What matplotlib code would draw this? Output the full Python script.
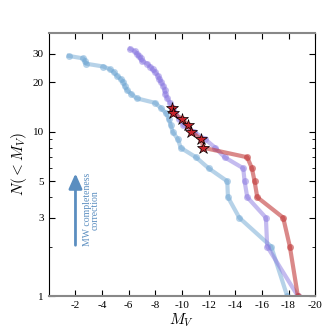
import matplotlib
matplotlib.use('Agg')
import matplotlib.pyplot as plt

plt.rcParams['font.family'] = 'serif'
plt.rcParams['font.serif'] = ['Liberation Serif', 'DejaVu Serif']
plt.rcParams['mathtext.fontset'] = 'cm'

# cumulative counts N(<M_V) against M_V
blue_mv = [-1.5, -2.6, -2.7, -2.8, -4.1, -4.6, -4.9, -5.1, -5.4, -5.6, -5.7, -5.85, -6.2, -6.6,
           -8.0, -8.4, -8.8, -9.0, -9.15, -9.3, -9.7, -9.9, -11.05, -12.0, -13.4, -13.45, -14.3,
           -16.7, -17.9]
blue_n = [29, 28, 27, 26, 25, 24, 23, 22, 21, 20, 19, 18, 17, 16, 15, 14, 13, 12, 11, 10, 9, 8,
          7, 6, 5, 4, 3, 2, 1]

purple_mv = [-6.1, -6.45, -6.6, -6.75, -6.9, -7.0, -7.4, -7.6, -7.8, -8.0, -8.2, -8.3, -8.45,
             -8.6, -8.7, -8.75, -8.9, -9.1, -9.3, -9.5, -9.8, -10.1, -10.9, -11.75, -12.5, -13.2,
             -14.6, -14.7, -14.9, -16.3, -16.4, -18.7]
purple_n = [32, 31, 30, 29, 28, 27, 26, 25, 24, 23, 22, 21, 20, 19, 18, 17, 16, 15, 14, 13, 12,
            11, 10, 9, 8, 7, 6, 5, 4, 3, 2, 1]

red_mv = [-9.25, -9.35, -10.0, -10.45, -10.7, -11.45, -11.6, -14.9, -15.25, -15.45, -15.65,
          -17.6, -18.1, -18.7]
red_n = [14, 13, 12, 11, 10, 9, 8, 7, 6, 5, 4, 3, 2, 1]

star_mv = red_mv[:7]
star_n = red_n[:7]

xticks = [-2, -4, -6, -8, -10, -12, -14, -16, -18, -20]
yticks = [1, 3, 5, 10, 20, 30]

fig = plt.figure(figsize=(3.3, 3.3), dpi=100)
ax = fig.add_axes([0.148, 0.103, 0.807, 0.797])

ax.plot(blue_mv, blue_n, '-o', color='#6ea6d3', alpha=0.5, lw=3, ms=5, mew=0)
ax.plot(purple_mv, purple_n, '-o', color='#8a78e0', alpha=0.5, lw=3, ms=5, mew=0)
ax.plot(red_mv, red_n, '-o', color='#c23b3b', alpha=0.6, lw=3, ms=5, mew=0)
ax.plot(star_mv, star_n, '*', color='#c8232c', mec='k', mew=0.5, ms=9, ls='none')

ax.set_yscale('log')
ax.set_xlim(0, -20)
ax.set_ylim(1, 40)
ax.set_xticks(xticks)
ax.set_xticklabels([str(t) for t in xticks])
ax.set_yticks(yticks)
ax.set_yticklabels([str(t) for t in yticks])
ax.tick_params(which='both', direction='in', top=True, right=True, labelsize=8)
ax.tick_params(which='major', length=4)
ax.tick_params(which='minor', length=2)
for s in ['top', 'bottom']:
    ax.spines[s].set_color('#888888')
    ax.spines[s].set_linewidth(1.5)

ax.set_xlabel('$M_V$', fontsize=11, labelpad=1)
ax.set_ylabel('$N(<M_V)$', fontsize=11, labelpad=3)

ax.annotate('', xy=(-2, 5.8), xytext=(-2, 1.96),
            arrowprops=dict(arrowstyle='-|>,head_width=0.4,head_length=0.9',
                            color='#5b8ec0', lw=2))
ax.text(-3.2, 3.35, 'MW completeness\ncorrection', rotation=90, color='#5b8ec0',
        fontsize=7, ha='center', va='center', linespacing=0.85)

fig.savefig('out.png', dpi=100)
